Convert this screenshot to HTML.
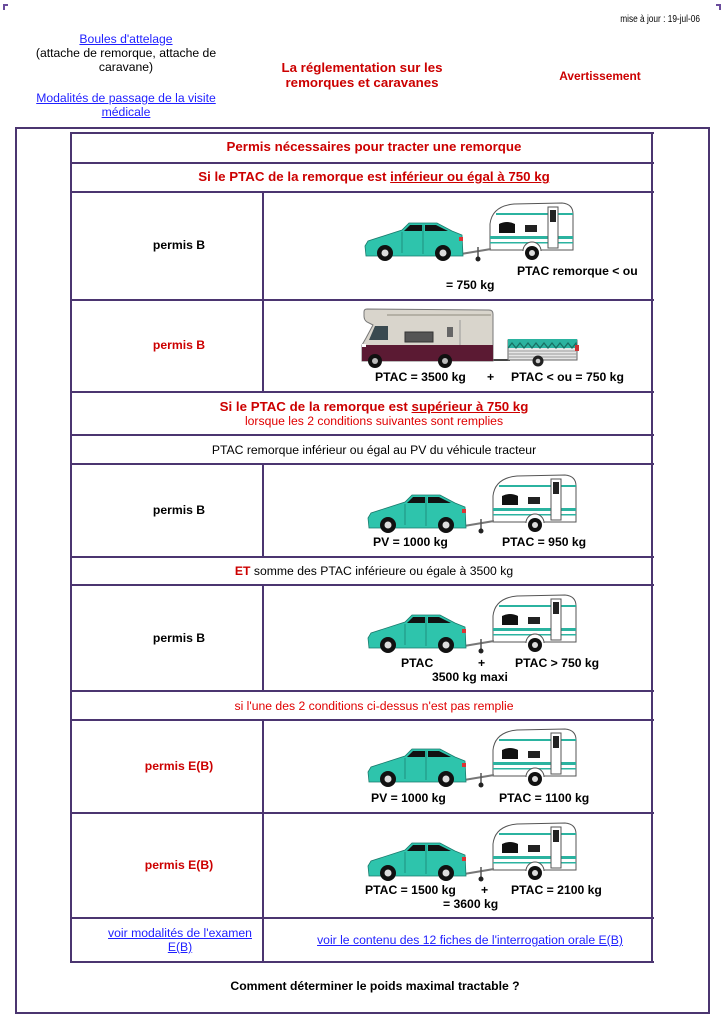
<!DOCTYPE html>
<html><head><meta charset="utf-8"><style>
html,body{margin:0;padding:0;background:#fff;}
body{width:724px;height:1024px;position:relative;overflow:hidden;font-family:"Liberation Sans",Arial,sans-serif;}
.t{position:absolute;white-space:nowrap;font-size:12.2px;line-height:14px;color:#000;}
.c{width:600px;text-align:center;}
.b{font-weight:bold;}
.r{color:#cc0000;}
.rl{color:#e00000;}
.a{color:#1f1fff;text-decoration:underline;}
.h{position:absolute;height:2px;background:#4b3570;}
.v{position:absolute;width:2px;background:#4b3570;}
.H{font-size:13.3px;font-weight:bold;color:#cc0000;}
svg{position:absolute;}
</style></head><body>

<!-- corner marks -->
<div style="position:absolute;left:3px;top:4px;width:5px;height:2px;background:#6a4c9c"></div>
<div style="position:absolute;left:3px;top:4px;width:2px;height:6px;background:#6a4c9c"></div>
<div style="position:absolute;left:716px;top:4px;width:5px;height:2px;background:#6a4c9c"></div>
<div style="position:absolute;left:719px;top:4px;width:2px;height:6px;background:#6a4c9c"></div>

<div class="t" style="left:580px;width:120px;text-align:right;top:13px;font-size:10px;line-height:13px;transform:scaleX(0.83);transform-origin:120px 0;">mise à jour : 19-jul-06</div>

<div class="t c" style="left:-174px;top:32px;"><span class="a">Boules d'attelage</span></div>
<div class="t c" style="left:-174px;top:46px;">(attache de remorque, attache de</div>
<div class="t c" style="left:-174px;top:60px;">caravane)</div>
<div class="t c" style="left:-174px;top:91px;"><span class="a">Modalités de passage de la visite</span></div>
<div class="t c" style="left:-174px;top:105px;"><span class="a">médicale</span></div>

<div class="t c H" style="left:62px;top:60px;line-height:15px;">La réglementation sur les</div>
<div class="t c H" style="left:62px;top:75px;line-height:15px;">remorques et caravanes</div>

<div class="t c b r" style="left:300px;top:69px;font-size:11.9px;">Avertissement</div>

<!-- outer box -->
<div style="position:absolute;left:15px;top:127px;width:695px;height:887px;box-sizing:border-box;border:2px solid #4b3570;"></div>

<!-- inner table lines -->
<div class="h" style="left:70px;width:584px;top:132px"></div>
<div class="h" style="left:70px;width:584px;top:162px"></div>
<div class="h" style="left:70px;width:584px;top:191px"></div>
<div class="h" style="left:70px;width:584px;top:299px"></div>
<div class="h" style="left:70px;width:584px;top:391px"></div>
<div class="h" style="left:70px;width:584px;top:434px"></div>
<div class="h" style="left:70px;width:584px;top:463px"></div>
<div class="h" style="left:70px;width:584px;top:556px"></div>
<div class="h" style="left:70px;width:584px;top:584px"></div>
<div class="h" style="left:70px;width:584px;top:690px"></div>
<div class="h" style="left:70px;width:584px;top:719px"></div>
<div class="h" style="left:70px;width:584px;top:812px"></div>
<div class="h" style="left:70px;width:584px;top:917px"></div>
<div class="h" style="left:70px;width:584px;top:961px"></div>
<div class="v" style="left:70px;top:132px;height:831px"></div>
<div class="v" style="left:651px;top:132px;height:831px"></div>
<div class="v" style="left:262px;top:191px;height:202px"></div>
<div class="v" style="left:262px;top:463px;height:95px"></div>
<div class="v" style="left:262px;top:584px;height:108px"></div>
<div class="v" style="left:262px;top:719px;height:244px"></div>

<!-- header rows -->
<div class="t c H" style="left:74px;top:140px;">Permis nécessaires pour tracter une remorque</div>
<div class="t c H" style="left:74px;top:170px;">Si le PTAC de la remorque est <u>inférieur ou égal à 750 kg</u></div>

<!-- row 1 -->
<div class="t c b" style="left:-121px;top:238px;">permis B</div>
<svg style="left:362px;top:198px" width="215" height="70" viewBox="0 0 215 70">
<path d="M128,52 L128,26 Q130,8 152,6 L200,5 Q211,6 211,16 L211,52 Z" fill="#fff" stroke="#555" stroke-width="1"/>
<rect x="134" y="15" width="77" height="2" fill="#2bb3a0"/>
<rect x="128" y="38" width="83" height="3" fill="#2bb3a0"/>
<rect x="128" y="44" width="83" height="1.5" fill="#2bb3a0"/>
<path d="M137,26 Q145,22 153,26 L153,35 L137,35 Z" fill="#111"/>
<rect x="163" y="27" width="12" height="7" fill="#222"/>
<rect x="186" y="9" width="10" height="41" fill="#fff" stroke="#555" stroke-width="1"/>
<rect x="188" y="12" width="6" height="12" fill="#222"/>
<line x1="99" y1="56" x2="129" y2="51" stroke="#777" stroke-width="2"/>
<line x1="116" y1="49" x2="116" y2="60" stroke="#555" stroke-width="1.5"/>
<circle cx="116" cy="61" r="2.5" fill="#222"/>
<path d="M161,53 A9,9 0 0 1 179,53" fill="#fff" stroke="#555"/>
<circle cx="170" cy="55" r="7" fill="#111"/><circle cx="170" cy="55" r="3" fill="#ddd"/>
<path d="M4,58 L3,48 L6,43 L40,32 L47,25 L75,25 L90,33 L100,37 L101,58 Z" fill="#2ec4ac" stroke="#1a7a6c" stroke-width="0.8"/>
<path d="M48,27 L60,27 L60,33 L42,33 Z" fill="#111"/><path d="M63,27 L74,27 L86,33 L63,33 Z" fill="#111"/>
<line x1="61" y1="27" x2="61" y2="56" stroke="#1a7a6c" stroke-width="0.7"/><line x1="40" y1="34" x2="40" y2="55" stroke="#1a7a6c" stroke-width="0.7"/>
<rect x="97" y="39" width="4" height="4" fill="#d33"/>
<circle cx="23" cy="55" r="8" fill="#111"/><circle cx="23" cy="55" r="3.5" fill="#ddd"/>
<circle cx="81" cy="55" r="8" fill="#111"/><circle cx="81" cy="55" r="3.5" fill="#ddd"/>
</svg>
<div class="t b" style="left:517px;top:264px;">PTAC remorque &lt; ou</div>
<div class="t b" style="left:446px;top:278px;">= 750 kg</div>

<!-- row 2 -->
<div class="t c b r" style="left:-121px;top:338px;">permis B</div>
<svg style="left:355px;top:300px" width="230" height="72" viewBox="0 0 230 72">
<line x1="136" y1="60" x2="155" y2="60" stroke="#444" stroke-width="2"/>
<rect x="153" y="40" width="69" height="20" fill="#e6e6e6" stroke="#666"/>
<g stroke="#999" stroke-width="1"><line x1="153" y1="51" x2="222" y2="51"/><line x1="153" y1="54" x2="222" y2="54"/><line x1="153" y1="57" x2="222" y2="57"/></g>
<rect x="153" y="39" width="69" height="9" fill="#2bb3a0"/>
<path d="M153,48 L157,43 L161,48 L165,43 L169,48 L173,43 L177,48 L181,43 L185,48 L189,43 L193,48 L197,43 L201,48 L205,43 L209,48 L213,43 L217,48 L221,43 L222,48" fill="none" stroke="#176e62" stroke-width="1.2"/>
<rect x="220" y="45" width="4" height="6" fill="#c33"/>
<circle cx="183" cy="61" r="5.5" fill="#222"/><circle cx="183" cy="61" r="2.3" fill="#ccc"/>
<path d="M12,9 L134,10 Q138,10 138,14 L138,61 L7,61 L7,45 L11,38 L18,25 L12,22 Q9,20 9,16 L9,12 Q9,9 12,9 Z" fill="#d9d5cc" stroke="#777"/>
<line x1="32" y1="15" x2="136" y2="15" stroke="#a8a398" stroke-width="1.5"/>
<rect x="7" y="45" width="131" height="16" fill="#5b1a33"/>
<path d="M20,26 L33,26 L33,40 L14,40 Z" fill="#3a4a50"/>
<rect x="50" y="32" width="28" height="10" fill="#555" stroke="#333"/>
<rect x="92" y="27" width="6" height="10" fill="#666"/>
<line x1="105" y1="20" x2="105" y2="45" stroke="#999"/>
<rect x="7" y="44" width="4" height="3" fill="#fff"/>
<circle cx="20" cy="61" r="7" fill="#111"/><circle cx="20" cy="61" r="3" fill="#bbb"/>
<circle cx="90" cy="61" r="7" fill="#111"/><circle cx="90" cy="61" r="3" fill="#bbb"/>
</svg>
<div class="t b" style="left:375px;top:370px;">PTAC = 3500 kg</div>
<div class="t b" style="left:487px;top:370px;">+</div>
<div class="t b" style="left:511px;top:370px;">PTAC &lt; ou = 750 kg</div>

<!-- supérieur header -->
<div class="t c H" style="left:74px;top:400px;">Si le PTAC de la remorque est <u>supérieur à 750 kg</u></div>
<div class="t c rl" style="left:74px;top:414px;">lorsque les 2 conditions suivantes sont remplies</div>
<div class="t c" style="left:74px;top:443px;">PTAC remorque inférieur ou égal au PV du véhicule tracteur</div>

<!-- row 3 -->
<div class="t c b" style="left:-121px;top:503px;">permis B</div>
<svg style="left:365px;top:470px" width="215" height="70" viewBox="0 0 215 70">
<path d="M128,52 L128,26 Q130,8 152,6 L200,5 Q211,6 211,16 L211,52 Z" fill="#fff" stroke="#555" stroke-width="1"/>
<rect x="134" y="15" width="77" height="2" fill="#2bb3a0"/>
<rect x="128" y="38" width="83" height="3" fill="#2bb3a0"/>
<rect x="128" y="44" width="83" height="1.5" fill="#2bb3a0"/>
<path d="M137,26 Q145,22 153,26 L153,35 L137,35 Z" fill="#111"/>
<rect x="163" y="27" width="12" height="7" fill="#222"/>
<rect x="186" y="9" width="10" height="41" fill="#fff" stroke="#555" stroke-width="1"/>
<rect x="188" y="12" width="6" height="12" fill="#222"/>
<line x1="99" y1="56" x2="129" y2="51" stroke="#777" stroke-width="2"/>
<line x1="116" y1="49" x2="116" y2="60" stroke="#555" stroke-width="1.5"/>
<circle cx="116" cy="61" r="2.5" fill="#222"/>
<path d="M161,53 A9,9 0 0 1 179,53" fill="#fff" stroke="#555"/>
<circle cx="170" cy="55" r="7" fill="#111"/><circle cx="170" cy="55" r="3" fill="#ddd"/>
<path d="M4,58 L3,48 L6,43 L40,32 L47,25 L75,25 L90,33 L100,37 L101,58 Z" fill="#2ec4ac" stroke="#1a7a6c" stroke-width="0.8"/>
<path d="M48,27 L60,27 L60,33 L42,33 Z" fill="#111"/><path d="M63,27 L74,27 L86,33 L63,33 Z" fill="#111"/>
<line x1="61" y1="27" x2="61" y2="56" stroke="#1a7a6c" stroke-width="0.7"/><line x1="40" y1="34" x2="40" y2="55" stroke="#1a7a6c" stroke-width="0.7"/>
<rect x="97" y="39" width="4" height="4" fill="#d33"/>
<circle cx="23" cy="55" r="8" fill="#111"/><circle cx="23" cy="55" r="3.5" fill="#ddd"/>
<circle cx="81" cy="55" r="8" fill="#111"/><circle cx="81" cy="55" r="3.5" fill="#ddd"/>
</svg>
<div class="t b" style="left:373px;top:535px;">PV = 1000 kg</div>
<div class="t b" style="left:502px;top:535px;">PTAC = 950 kg</div>

<div class="t c" style="left:74px;top:564px;"><span class="b r">ET</span> somme des PTAC inférieure ou égale à 3500 kg</div>

<!-- row 4 -->
<div class="t c b" style="left:-121px;top:631px;">permis B</div>
<svg style="left:365px;top:590px" width="215" height="70" viewBox="0 0 215 70">
<path d="M128,52 L128,26 Q130,8 152,6 L200,5 Q211,6 211,16 L211,52 Z" fill="#fff" stroke="#555" stroke-width="1"/>
<rect x="134" y="15" width="77" height="2" fill="#2bb3a0"/>
<rect x="128" y="38" width="83" height="3" fill="#2bb3a0"/>
<rect x="128" y="44" width="83" height="1.5" fill="#2bb3a0"/>
<path d="M137,26 Q145,22 153,26 L153,35 L137,35 Z" fill="#111"/>
<rect x="163" y="27" width="12" height="7" fill="#222"/>
<rect x="186" y="9" width="10" height="41" fill="#fff" stroke="#555" stroke-width="1"/>
<rect x="188" y="12" width="6" height="12" fill="#222"/>
<line x1="99" y1="56" x2="129" y2="51" stroke="#777" stroke-width="2"/>
<line x1="116" y1="49" x2="116" y2="60" stroke="#555" stroke-width="1.5"/>
<circle cx="116" cy="61" r="2.5" fill="#222"/>
<path d="M161,53 A9,9 0 0 1 179,53" fill="#fff" stroke="#555"/>
<circle cx="170" cy="55" r="7" fill="#111"/><circle cx="170" cy="55" r="3" fill="#ddd"/>
<path d="M4,58 L3,48 L6,43 L40,32 L47,25 L75,25 L90,33 L100,37 L101,58 Z" fill="#2ec4ac" stroke="#1a7a6c" stroke-width="0.8"/>
<path d="M48,27 L60,27 L60,33 L42,33 Z" fill="#111"/><path d="M63,27 L74,27 L86,33 L63,33 Z" fill="#111"/>
<line x1="61" y1="27" x2="61" y2="56" stroke="#1a7a6c" stroke-width="0.7"/><line x1="40" y1="34" x2="40" y2="55" stroke="#1a7a6c" stroke-width="0.7"/>
<rect x="97" y="39" width="4" height="4" fill="#d33"/>
<circle cx="23" cy="55" r="8" fill="#111"/><circle cx="23" cy="55" r="3.5" fill="#ddd"/>
<circle cx="81" cy="55" r="8" fill="#111"/><circle cx="81" cy="55" r="3.5" fill="#ddd"/>
</svg>
<div class="t b" style="left:401px;top:656px;">PTAC</div>
<div class="t b" style="left:478px;top:656px;">+</div>
<div class="t b" style="left:515px;top:656px;">PTAC &gt; 750 kg</div>
<div class="t b" style="left:432px;top:670px;">3500 kg maxi</div>

<div class="t c rl" style="left:74px;top:699px;">si l'une des 2 conditions ci-dessus n'est pas remplie</div>

<!-- row 5 -->
<div class="t c b r" style="left:-121px;top:759px;">permis E(B)</div>
<svg style="left:365px;top:724px" width="215" height="70" viewBox="0 0 215 70">
<path d="M128,52 L128,26 Q130,8 152,6 L200,5 Q211,6 211,16 L211,52 Z" fill="#fff" stroke="#555" stroke-width="1"/>
<rect x="134" y="15" width="77" height="2" fill="#2bb3a0"/>
<rect x="128" y="38" width="83" height="3" fill="#2bb3a0"/>
<rect x="128" y="44" width="83" height="1.5" fill="#2bb3a0"/>
<path d="M137,26 Q145,22 153,26 L153,35 L137,35 Z" fill="#111"/>
<rect x="163" y="27" width="12" height="7" fill="#222"/>
<rect x="186" y="9" width="10" height="41" fill="#fff" stroke="#555" stroke-width="1"/>
<rect x="188" y="12" width="6" height="12" fill="#222"/>
<line x1="99" y1="56" x2="129" y2="51" stroke="#777" stroke-width="2"/>
<line x1="116" y1="49" x2="116" y2="60" stroke="#555" stroke-width="1.5"/>
<circle cx="116" cy="61" r="2.5" fill="#222"/>
<path d="M161,53 A9,9 0 0 1 179,53" fill="#fff" stroke="#555"/>
<circle cx="170" cy="55" r="7" fill="#111"/><circle cx="170" cy="55" r="3" fill="#ddd"/>
<path d="M4,58 L3,48 L6,43 L40,32 L47,25 L75,25 L90,33 L100,37 L101,58 Z" fill="#2ec4ac" stroke="#1a7a6c" stroke-width="0.8"/>
<path d="M48,27 L60,27 L60,33 L42,33 Z" fill="#111"/><path d="M63,27 L74,27 L86,33 L63,33 Z" fill="#111"/>
<line x1="61" y1="27" x2="61" y2="56" stroke="#1a7a6c" stroke-width="0.7"/><line x1="40" y1="34" x2="40" y2="55" stroke="#1a7a6c" stroke-width="0.7"/>
<rect x="97" y="39" width="4" height="4" fill="#d33"/>
<circle cx="23" cy="55" r="8" fill="#111"/><circle cx="23" cy="55" r="3.5" fill="#ddd"/>
<circle cx="81" cy="55" r="8" fill="#111"/><circle cx="81" cy="55" r="3.5" fill="#ddd"/>
</svg>
<div class="t b" style="left:371px;top:791px;">PV = 1000 kg</div>
<div class="t b" style="left:499px;top:791px;">PTAC = 1100 kg</div>

<!-- row 6 -->
<div class="t c b r" style="left:-121px;top:858px;">permis E(B)</div>
<svg style="left:365px;top:818px" width="215" height="70" viewBox="0 0 215 70">
<path d="M128,52 L128,26 Q130,8 152,6 L200,5 Q211,6 211,16 L211,52 Z" fill="#fff" stroke="#555" stroke-width="1"/>
<rect x="134" y="15" width="77" height="2" fill="#2bb3a0"/>
<rect x="128" y="38" width="83" height="3" fill="#2bb3a0"/>
<rect x="128" y="44" width="83" height="1.5" fill="#2bb3a0"/>
<path d="M137,26 Q145,22 153,26 L153,35 L137,35 Z" fill="#111"/>
<rect x="163" y="27" width="12" height="7" fill="#222"/>
<rect x="186" y="9" width="10" height="41" fill="#fff" stroke="#555" stroke-width="1"/>
<rect x="188" y="12" width="6" height="12" fill="#222"/>
<line x1="99" y1="56" x2="129" y2="51" stroke="#777" stroke-width="2"/>
<line x1="116" y1="49" x2="116" y2="60" stroke="#555" stroke-width="1.5"/>
<circle cx="116" cy="61" r="2.5" fill="#222"/>
<path d="M161,53 A9,9 0 0 1 179,53" fill="#fff" stroke="#555"/>
<circle cx="170" cy="55" r="7" fill="#111"/><circle cx="170" cy="55" r="3" fill="#ddd"/>
<path d="M4,58 L3,48 L6,43 L40,32 L47,25 L75,25 L90,33 L100,37 L101,58 Z" fill="#2ec4ac" stroke="#1a7a6c" stroke-width="0.8"/>
<path d="M48,27 L60,27 L60,33 L42,33 Z" fill="#111"/><path d="M63,27 L74,27 L86,33 L63,33 Z" fill="#111"/>
<line x1="61" y1="27" x2="61" y2="56" stroke="#1a7a6c" stroke-width="0.7"/><line x1="40" y1="34" x2="40" y2="55" stroke="#1a7a6c" stroke-width="0.7"/>
<rect x="97" y="39" width="4" height="4" fill="#d33"/>
<circle cx="23" cy="55" r="8" fill="#111"/><circle cx="23" cy="55" r="3.5" fill="#ddd"/>
<circle cx="81" cy="55" r="8" fill="#111"/><circle cx="81" cy="55" r="3.5" fill="#ddd"/>
</svg>
<div class="t b" style="left:365px;top:883px;">PTAC = 1500 kg</div>
<div class="t b" style="left:481px;top:883px;">+</div>
<div class="t b" style="left:511px;top:883px;">PTAC = 2100 kg</div>
<div class="t b" style="left:443px;top:897px;">= 3600 kg</div>

<!-- row 7 -->
<div class="t c" style="left:-120px;top:926px;"><span class="a">voir modalités de l'examen</span></div>
<div class="t c" style="left:-120px;top:940px;"><span class="a">E(B)</span></div>
<div class="t c" style="left:170px;top:933px;"><span class="a">voir le contenu des 12 fiches de l'interrogation orale E(B)</span></div>

<div class="t c b" style="left:75px;top:979px;">Comment déterminer le poids maximal tractable ?</div>

</body></html>
